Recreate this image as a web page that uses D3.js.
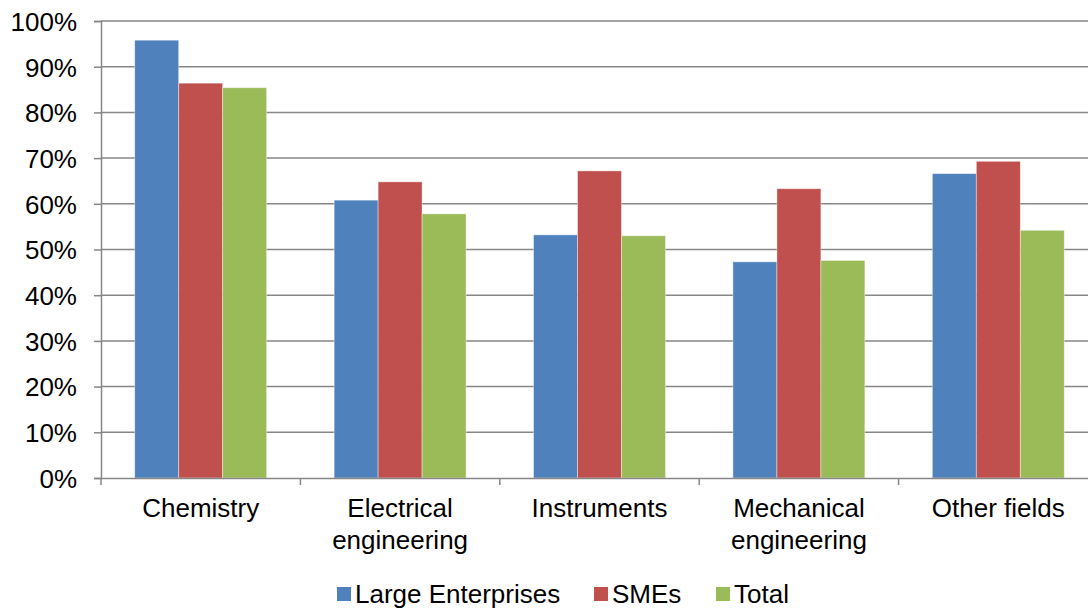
<!DOCTYPE html>
<html>
<head>
<meta charset="utf-8">
<script src="https://cdn.jsdelivr.net/npm/d3@7"></script>
<style>
  body { margin: 0; background: #fff; }
  svg { display: block; font-family: "Liberation Sans", Arial, sans-serif; }
</style>
</head>
<body>
<div id="chart"></div>
<script>
// data
var categories = ["Chemistry", "Electrical engineering", "Instruments", "Mechanical engineering", "Other fields"];
var seriesNames = ["Large Enterprises", "SMEs", "Total"];
var largeEnterprises = [95.8, 60.8, 53.2, 47.3, 66.6];
var smes = [86.4, 64.8, 67.2, 63.3, 69.3];
var total = [85.4, 57.8, 53.0, 47.6, 54.2];
var yTicks = [0, 10, 20, 30, 40, 50, 60, 70, 80, 90, 100];
var colours = ["#4F81BD", "#C0504D", "#9BBB59"];

var width = 1088, height = 609;
var margin = { top: 21, right: -10, bottom: 131, left: 101 };

var svg = d3.select("#chart")
    .append("svg")
    .attr("width", width)
    .attr("height", height);

var rows = categories.map(function(c, i) {
    return { category: c, values: [largeEnterprises[i], smes[i], total[i]] };
});

var x = d3.scaleBand()
    .domain(categories)
    .range([margin.left, width - margin.right])
    .paddingInner(0)
    .paddingOuter(0);

var xInner = d3.scaleBand()
    .domain(seriesNames)
    .range([0, x.bandwidth()])
    .paddingInner(0)
    .paddingOuter(0.767);

var y = d3.scaleLinear()
    .domain([0, 100])
    .range([height - margin.bottom, margin.top]);

function wrap(text, w) {
    text.each(function() {
        var t = d3.select(this),
            words = t.text().split(/\s+/).reverse(),
            word, line = [],
            tspan = t.text(null).append("tspan").attr("x", 0).attr("dy", "0.71em");
        while (word = words.pop()) {
            line.push(word);
            tspan.text(line.join(" "));
            if (tspan.node().getComputedTextLength() > w && line.length > 1) {
                line.pop();
                tspan.text(line.join(" "));
                line = [word];
                tspan = t.append("tspan").attr("x", 0).attr("dy", "1.23em").text(word);
            }
        }
    });
}

// gridlines
svg.append("g")
    .selectAll("line")
    .data(yTicks.filter(function(d) { return d > 0; }))
    .enter()
    .append("line")
    .attr("x1", margin.left)
    .attr("x2", width - margin.right)
    .attr("y1", function(d) { return y(d); })
    .attr("y2", function(d) { return y(d); })
    .attr("stroke", "#878787")
    .attr("stroke-width", 1.5);

// bars
var groups = svg.append("g")
    .selectAll("g")
    .data(rows)
    .enter()
    .append("g")
    .attr("transform", function(d) { return "translate(" + x(d.category) + ",0)"; });

groups.selectAll("rect")
    .data(function(d) { return d.values.map(function(v, i) { return { name: seriesNames[i], value: v, i: i }; }); })
    .enter()
    .append("rect")
    .attr("x", function(d) { return xInner(d.name); })
    .attr("width", xInner.bandwidth())
    .attr("y", function(d) { return y(d.value); })
    .attr("height", function(d) { return y(0) - y(d.value); })
    .attr("fill", function(d) { return colours[d.i]; })
    .attr("stroke", "#ffffff")
    .attr("stroke-opacity", 0.5)
    .attr("stroke-width", 0.8);

// y axis
var yAxis = d3.axisLeft(y)
    .tickValues(yTicks)
    .tickSize(7)
    .tickPadding(17)
    .tickFormat(function(d) { return d + "%"; });

var yg = svg.append("g")
    .attr("transform", "translate(" + margin.left + ",0)")
    .call(yAxis);

yg.selectAll("text")
    .style("font-size", "26px")
    .style("fill", "#000")
    .attr("dy", "0.36em");

// x axis
var xAxis = d3.axisBottom(x)
    .tickSize(0)
    .tickPadding(21);

var xg = svg.append("g")
    .attr("transform", "translate(0," + y(0) + ")")
    .call(xAxis);

xg.selectAll(".tick text")
    .style("font-size", "26px")
    .style("fill", "#000")
    .call(wrap, 175);

// category separator ticks
svg.append("g")
    .selectAll("line")
    .data(categories.concat(["end"]))
    .enter()
    .append("line")
    .attr("x1", function(d, i) { return i < categories.length ? x(d) : x.range()[1]; })
    .attr("x2", function(d, i) { return i < categories.length ? x(d) : x.range()[1]; })
    .attr("y1", y(0))
    .attr("y2", y(0) + 7)
    .attr("stroke", "#878787")
    .attr("stroke-width", 1.5);

svg.selectAll(".domain").attr("stroke", "#878787").attr("stroke-width", 1.5);
svg.selectAll(".tick line").attr("stroke", "#878787").attr("stroke-width", 1.5);

// legend
var legendX = [337, 594, 716];
var legend = svg.append("g")
    .selectAll("g")
    .data(seriesNames)
    .enter()
    .append("g")
    .attr("transform", function(d, i) { return "translate(" + legendX[i] + ",587)"; });

legend.append("rect")
    .attr("width", 14)
    .attr("height", 14)
    .attr("fill", function(d, i) { return colours[i]; });

legend.append("text")
    .attr("x", 18)
    .attr("y", 16)
    .style("font-size", "26px")
    .style("fill", "#000")
    .text(function(d) { return d; });
</script>
</body>
</html>
